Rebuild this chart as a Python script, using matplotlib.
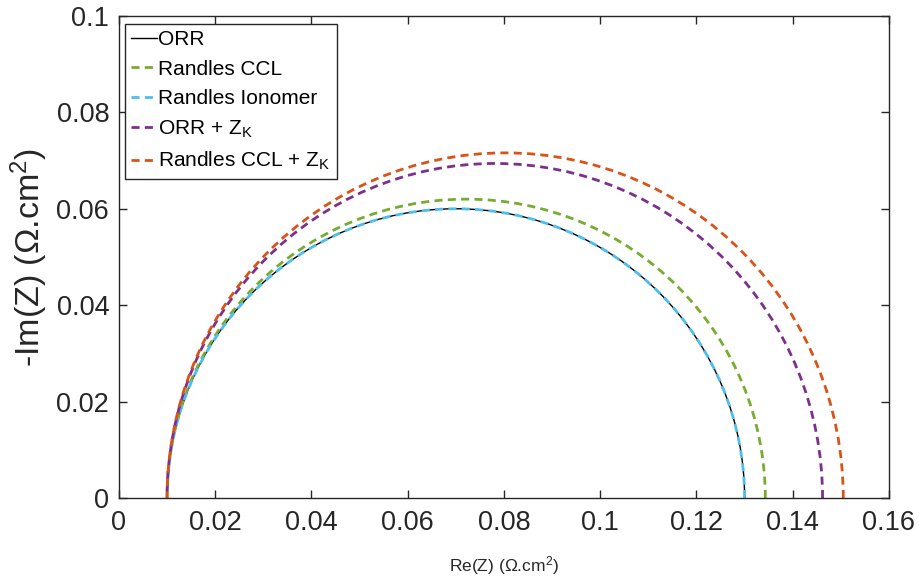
import matplotlib
matplotlib.use("Agg")
import matplotlib.pyplot as plt
from matplotlib.patches import Arc
from matplotlib.lines import Line2D
from matplotlib.ticker import FormatStrFormatter, MultipleLocator

plt.rcParams['font.family'] = ['Liberation Sans', 'DejaVu Sans']
plt.rcParams['mathtext.fontset'] = 'custom'
plt.rcParams['mathtext.rm'] = 'Liberation Sans'
plt.rcParams['mathtext.it'] = 'Liberation Sans'

labels = ['ORR', 'Randles CCL', 'Randles Ionomer',
          r'ORR + Z$_\mathregular{K}$', r'Randles CCL + Z$_\mathregular{K}$']
re_start = [0.010, 0.010, 0.010, 0.010, 0.010]
re_end = [0.130, 0.1343, 0.130, 0.1462, 0.1505]
im_peak = [0.0600, 0.0620, 0.0600, 0.0694, 0.0716]
colors = ['black', '#77AC30', '#4DBEEE', '#7E2F8E', '#D95319']
dashed = [False, True, True, True, True]

fig = plt.figure(figsize=(9.2, 5.81), dpi=100)
ax = fig.add_axes([0.1293, 0.1429, 0.837, 0.8296])

handles = []
for i in range(len(labels)):
    xc = (re_start[i] + re_end[i]) / 2
    w = re_end[i] - re_start[i]
    h = 2 * im_peak[i]
    if dashed[i]:
        ls = (0, (2.9, 1.9))
        lw = 2.0
    else:
        ls = '-'
        lw = 1.0
    arc = Arc((xc, 0), w, h, theta1=0, theta2=180, edgecolor=colors[i],
              linestyle=ls, linewidth=lw, zorder=2)
    ax.add_patch(arc)
    handles.append(Line2D([], [], color=colors[i], linestyle=ls, linewidth=lw,
                          label=labels[i]))

ax.set_xlim(0, 0.16)
ax.set_ylim(0, 0.1)
ax.xaxis.set_major_locator(MultipleLocator(0.02))
ax.yaxis.set_major_locator(MultipleLocator(0.02))
ax.xaxis.set_major_formatter(FormatStrFormatter('%g'))
ax.yaxis.set_major_formatter(FormatStrFormatter('%g'))
ax.tick_params(direction='in', top=True, right=True, length=5.8, width=1,
               labelsize=19.5, colors='#262626')
ax.tick_params(axis='x', pad=9)
ax.tick_params(axis='y', pad=7)
for s in ax.spines.values():
    s.set_linewidth(1.0)
    s.set_color('#262626')

ax.set_xlabel('Re(Z) (Ω.cm$^{2}$)', fontsize=12.5, color='#262626', labelpad=13)
ax.set_ylabel('-Im(Z) (Ω.cm$^{2}$)', fontsize=24.5, color='#262626', labelpad=5)

leg = ax.legend(handles=handles, loc='upper left', bbox_to_anchor=(0.0078, 0.9834),
                fontsize=15, handlelength=1.25, handletextpad=0.05,
                labelspacing=0.5, borderpad=0.3, borderaxespad=0.0,
                fancybox=False, framealpha=1)
leg.get_frame().set_edgecolor('#262626')
leg.get_frame().set_linewidth(1.0)

fig.savefig('out.png', dpi=100)
